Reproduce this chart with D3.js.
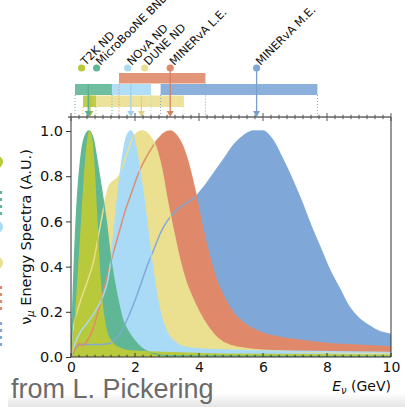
<!DOCTYPE html>
<html><head><meta charset="utf-8">
<script src="https://cdn.jsdelivr.net/npm/d3@7"></script>
<style>body{margin:0;background:#fff}svg{display:block}</style>
</head><body>
<script>
// ---- data (energy GeV, normalised flux) ----
const experiments = ["T2K ND","MicroBooNE BNB","NOvA ND","DUNE ND","MINERvA L.E.","MINERvA M.E."];
const colors = ["#b9c93c","#5fb795","#a9dbf6","#ebdf90","#e0896a","#7fa7d8"];
const markerE = [0.33, 0.8, 1.77, 2.3, 3.1, 5.8];
const peakE = [0.59, 0.54, 1.87, 2.2, 3.1, 5.8];
const barRow = [2, 1, 1, 2, 0, 1];
const barLo = [0.375, 0.125, 1.28, 0.5, 1.5, 2.8];
const barHi = [0.78, 1.28, 2.5, 3.53, 4.2, 7.7];
const xTicks = [0,2,4,6,8,10];
const yTicks = [0,0.2,0.4,0.6,0.8,1.0];

const t2k = [[0,0],[0.1,0.1],[0.2,0.3],[0.3,0.52],[0.4,0.75],[0.5,0.93],[0.59,1.0],[0.7,0.88],[0.8,0.62],[0.9,0.36],[1.0,0.2],[1.1,0.12],[1.3,0.06],[1.6,0.035],[2,0.025],[3,0.02],[5,0.012],[10,0.008]];
const uboone = [[0,0],[0.05,0.2],[0.1,0.4],[0.2,0.7],[0.3,0.87],[0.4,0.96],[0.56,1.0],[0.7,0.96],[0.8,0.88],[0.9,0.79],[1.0,0.7],[1.1,0.6],[1.2,0.48],[1.3,0.38],[1.4,0.3],[1.5,0.23],[1.6,0.17],[1.8,0.11],[2.0,0.07],[2.3,0.03],[2.6,0.015],[3,0.006],[10,0.002]];
const nova = [[0,0],[0.1,0.05],[0.25,0.1],[0.5,0.15],[0.75,0.2],[1.0,0.27],[1.15,0.34],[1.25,0.43],[1.35,0.56],[1.45,0.7],[1.55,0.82],[1.65,0.92],[1.75,0.98],[1.87,1.0],[1.95,0.98],[2.05,0.91],[2.2,0.78],[2.35,0.62],[2.5,0.45],[2.65,0.3],[2.8,0.19],[3.0,0.11],[3.3,0.06],[3.7,0.04],[5,0.03],[7,0.025],[10,0.02]];
const dune = [[0,0],[0.05,0.1],[0.15,0.18],[0.3,0.25],[0.5,0.33],[0.7,0.42],[0.9,0.57],[1.05,0.68],[1.2,0.76],[1.35,0.78],[1.5,0.8],[1.7,0.88],[1.9,0.96],[2.1,0.995],[2.25,1.0],[2.45,0.98],[2.65,0.93],[2.85,0.82],[3.0,0.7],[3.2,0.56],[3.4,0.43],[3.6,0.33],[3.8,0.26],[4.0,0.2],[4.3,0.13],[4.6,0.08],[5,0.05],[6,0.03],[8,0.02],[10,0.015]];
const minervaLE = [[0,0],[0.15,0.04],[0.25,0.06],[0.35,0.05],[0.5,0.07],[0.7,0.13],[0.9,0.23],[1.1,0.34],[1.3,0.45],[1.5,0.55],[1.7,0.65],[1.9,0.73],[2.1,0.81],[2.3,0.87],[2.5,0.92],[2.7,0.96],[2.9,0.99],[3.1,1.0],[3.3,0.98],[3.5,0.93],[3.7,0.84],[3.9,0.72],[4.1,0.58],[4.3,0.46],[4.5,0.36],[4.8,0.26],[5.1,0.19],[5.5,0.14],[6,0.105],[7,0.077],[8,0.06],[9,0.052],[10,0.045]];
const minervaME = [[0,0],[0.15,0.04],[0.3,0.055],[0.6,0.055],[0.9,0.055],[1.2,0.06],[1.4,0.08],[1.6,0.12],[1.8,0.18],[2.0,0.25],[2.2,0.33],[2.4,0.41],[2.6,0.48],[2.8,0.55],[3.0,0.6],[3.3,0.65],[3.6,0.68],[3.9,0.71],[4.2,0.76],[4.5,0.82],[4.8,0.88],[5.1,0.94],[5.4,0.98],[5.7,1.0],[6.0,1.0],[6.3,0.96],[6.6,0.88],[6.9,0.79],[7.2,0.69],[7.5,0.58],[7.8,0.48],[8.1,0.38],[8.4,0.3],[8.7,0.22],[9.0,0.17],[9.3,0.14],[9.6,0.115],[10,0.1]];
const spectra = [t2k, uboone, nova, dune, minervaLE, minervaME];

// ---- layout ----
const W = 405, H = 407;
const x = d3.scaleLinear([0,10],[71,391]);
const y = d3.scaleLinear([0,1.062],[357,117]);
const svg = d3.select("body").append("svg").attr("width",W).attr("height",H);

const defs = svg.append("defs");
defs.append("clipPath").attr("id","plot").append("rect")
  .attr("x",x(0)).attr("y",y(1.062)).attr("width",x(10)-x(0)).attr("height",y(0)-y(1.062));
const grad = defs.append("linearGradient").attr("id","shade").attr("x1",0).attr("y1",0).attr("x2",0).attr("y2",1);
grad.append("stop").attr("offset","0%").attr("stop-color","#ffffff");
grad.append("stop").attr("offset","100%").attr("stop-color","#e4e4e4");

// bottom slide shading
svg.append("rect").attr("x",8).attr("y",393).attr("width",W-8).attr("height",14).attr("fill","url(#shade)");

// left cut-off legend fragments
const fragY = [162, 203, 227, 263, 298, 334];
fragY.forEach((fy,i)=>{
  if (i===0||i===2||i===3) svg.append("circle").attr("cx",-3.5).attr("cy",fy).attr("r",6.5).attr("fill",colors[i]);
  else svg.append("line").attr("x1",1).attr("x2",1).attr("y1",fy-12).attr("y2",fy+12)
    .attr("stroke",colors[i]).attr("stroke-width",2.2).attr("stroke-dasharray","3,4");
});

// spectra
const area = d3.area().x(d=>x(d[0])).y0(y(0)).y1(d=>y(d[1])).curve(d3.curveMonotoneX);
const line = d3.line().x(d=>x(d[0])).y(d=>y(d[1])).curve(d3.curveMonotoneX);
const g = svg.append("g").attr("clip-path","url(#plot)");
const order = [5,4,3,2,1,0];
order.forEach(i=>{
  g.append("path").attr("d",area(spectra[i])).attr("fill",colors[i]);
});
order.forEach(i=>{
  g.append("path").attr("d",line(spectra[i])).attr("fill","none")
    .attr("stroke",colors[i]).attr("stroke-width",1.5).attr("opacity",0.95);
});

// range bars
const rowY = [73, 84, 95.5], rowH = [10.5, 11, 11.5];
const barOrder = [4,1,2,5,3,0];
const axTop = y(1.062);
barOrder.forEach(i=>{
  const r = barRow[i];
  svg.append("rect").attr("x",x(barLo[i])).attr("y",rowY[r]).attr("width",x(barHi[i])-x(barLo[i]))
    .attr("height",rowH[r]).attr("fill",colors[i]).attr("opacity",0.9);
});
barOrder.forEach(i=>{
  const r = barRow[i];
  [barLo[i],barHi[i]].forEach(e=>{
    svg.append("line").attr("x1",x(e)).attr("x2",x(e)).attr("y1",rowY[r]+rowH[r]).attr("y2",axTop)
      .attr("stroke",colors[i]).attr("stroke-width",1).attr("stroke-dasharray","1,2");
  });
});

// arrows
experiments.forEach((n,i)=>{
  const r = barRow[i];
  const top = (i===4||i===5) ? 70 : rowY[r];
  const px = x(peakE[i]);
  svg.append("line").attr("x1",px).attr("x2",px).attr("y1",top).attr("y2",axTop-5)
    .attr("stroke",d3.color(colors[i]).darker(0.15)).attr("stroke-width",1.3);
  svg.append("path").attr("d",`M${px-3.5},${axTop-6}L${px+3.5},${axTop-6}L${px},${axTop}Z`)
    .attr("fill",d3.color(colors[i]).darker(0.15));
});

// markers + labels
experiments.forEach((n,i)=>{
  const cx = x(markerE[i]), cy = 68;
  svg.append("circle").attr("cx",cx).attr("cy",cy).attr("r",3.6).attr("fill",colors[i]);
  svg.append("text").attr("transform",`translate(${cx+4},${cy-2}) rotate(-45)`)
    .attr("font-family","DejaVu Sans").attr("font-size",11.3).attr("fill","#111").text(n);
});

// axes frame
const frame = svg.append("g").attr("stroke","#333").attr("stroke-width",1).attr("fill","none");
frame.append("line").attr("x1",x(0)).attr("x2",x(0)).attr("y1",axTop).attr("y2",y(0));
frame.append("line").attr("x1",x(10)).attr("x2",x(10)).attr("y1",axTop).attr("y2",y(0));
frame.append("line").attr("x1",x(0)).attr("x2",x(10)).attr("y1",y(0)).attr("y2",y(0));
frame.append("line").attr("x1",x(0)-3).attr("x2",x(10)).attr("y1",axTop).attr("y2",axTop).attr("stroke","#666").attr("stroke-width",1.4);

// minor + major ticks
const minor = d3.range(0,10.001,0.25);
minor.forEach(v=>{
  const major = Math.abs(v/2-Math.round(v/2))<1e-6;
  const L = major ? 4 : 2.2;
  frame.append("line").attr("x1",x(v)).attr("x2",x(v)).attr("y1",y(0)).attr("y2",y(0)-L);
  frame.append("line").attr("x1",x(v)).attr("x2",x(v)).attr("y1",axTop-L).attr("y2",axTop+L).attr("stroke","#555");
});

// x axis labels
svg.append("g").attr("transform",`translate(0,${y(0)})`)
  .call(d3.axisBottom(x).tickValues(xTicks).tickSize(0).tickPadding(5).tickFormat(d3.format("d")))
  .call(a=>a.select(".domain").remove())
  .call(a=>a.selectAll("text").attr("font-family","DejaVu Sans").attr("font-size",14).attr("fill","#111"));

// y axis
svg.append("g").attr("transform",`translate(${x(0)},0)`)
  .call(d3.axisLeft(y).tickValues(yTicks).tickSize(5).tickPadding(3).tickFormat(d3.format(".1f")))
  .call(a=>a.select(".domain").remove())
  .call(a=>a.selectAll("line").attr("stroke","#333"))
  .call(a=>a.selectAll("text").attr("font-family","DejaVu Sans").attr("font-size",14.5).attr("fill","#111"));

// axis titles
const yl = svg.append("text").attr("transform",`translate(31,${(axTop+y(0))/2}) rotate(-90)`)
  .attr("text-anchor","middle").attr("font-family","DejaVu Sans").attr("font-size",14.5).attr("fill","#111");
yl.append("tspan").text("ν");
yl.append("tspan").attr("font-size",10).attr("dy",3).attr("font-style","italic").text("μ");
yl.append("tspan").attr("dy",-3).text(" Energy Spectra (A.U.)");

const xl = svg.append("text").attr("x",x(10)).attr("y",391).attr("text-anchor","end")
  .attr("font-family","DejaVu Sans").attr("font-size",14).attr("fill","#111");
xl.append("tspan").attr("font-style","italic").text("E");
xl.append("tspan").attr("font-size",10).attr("dy",3).attr("font-style","italic").text("ν");
xl.append("tspan").attr("dy",-3).text(" (GeV)");

// credit
svg.append("text").attr("x",11).attr("y",398).attr("font-family","Liberation Sans, Arial, sans-serif")
  .attr("font-size",27).attr("fill","#6b6b6b").text("from L. Pickering");
</script>
</body></html>
